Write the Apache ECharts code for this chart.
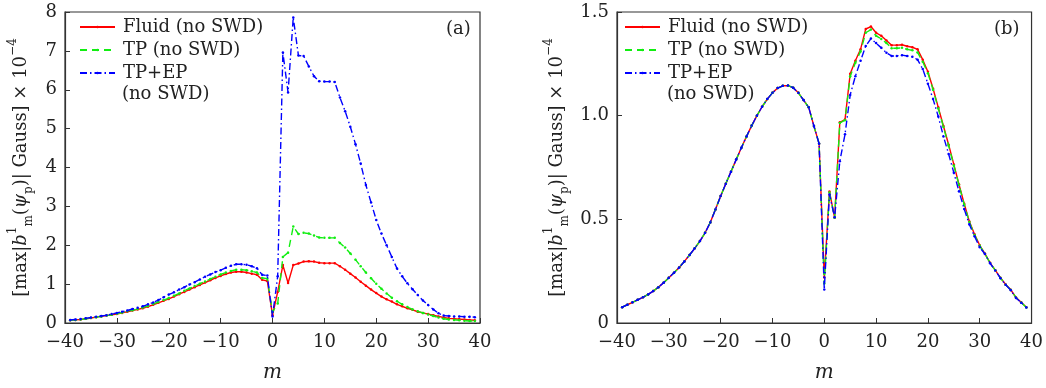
<!DOCTYPE html>
<html>
<head>
<meta charset="utf-8">
<script src="https://cdn.jsdelivr.net/npm/echarts@6/dist/echarts.min.js"></script>
<style>
html,body{margin:0;padding:0;background:#fff;}
#c{width:1046px;height:388px;}
</style>
</head>
<body>
<div id="c"></div>
<script>
// ---- data ----
const mValues = [-39,-38,-37,-36,-35,-34,-33,-32,-31,-30,
  -29,-28,-27,-26,-25,-24,-23,-22,-21,-20,
  -19,-18,-17,-16,-15,-14,-13,-12,-11,-10,
  -9,-8,-7,-6,-5,-4,-3,-2,-1,
  0,
  1,2,3,4,5,6,7,8,9,10,
  11,12,13,14,15,16,17,18,19,20,
  21,22,23,24,25,26,27,28,29,30,
  31,32,33,34,35,36,37,38,39];

const seriesNames = ['Fluid (no SWD)', 'TP (no SWD)', 'TP+EP'];
const legendExtra = '(no SWD)';

// panel (a)
const fluidA = [0.07,0.08,0.09,0.11,0.13,0.15,0.17,0.19,0.21,0.23,
  0.26,0.29,0.32,0.35,0.38,0.42,0.47,0.52,0.57,0.62,
  0.68,0.74,0.80,0.86,0.92,0.98,1.04,1.10,1.16,1.21,
  1.26,1.30,1.32,1.32,1.30,1.27,1.24,1.11,1.08,
  0.20,
  0.80,1.49,1.03,1.49,1.53,1.58,1.59,1.58,1.55,1.54,
  1.54,1.54,1.46,1.37,1.27,1.17,1.06,0.96,0.86,0.77,
  0.68,0.61,0.55,0.48,0.43,0.38,0.34,0.29,0.26,0.23,
  0.20,0.17,0.14,0.12,0.11,0.10,0.09,0.08,0.07];
const tpA = [0.07,0.08,0.09,0.11,0.13,0.15,0.17,0.19,0.21,0.24,
  0.27,0.30,0.33,0.36,0.40,0.44,0.49,0.54,0.59,0.64,
  0.70,0.76,0.83,0.89,0.95,1.01,1.07,1.13,1.19,1.25,
  1.30,1.34,1.37,1.37,1.36,1.33,1.30,1.16,1.14,
  0.28,
  0.50,1.70,1.81,2.48,2.29,2.32,2.30,2.25,2.20,2.19,
  2.19,2.19,2.06,1.94,1.79,1.63,1.46,1.30,1.15,1.01,
  0.88,0.76,0.65,0.56,0.48,0.41,0.35,0.30,0.26,0.22,
  0.18,0.14,0.11,0.09,0.08,0.07,0.06,0.05,0.05];
const tpepA = [0.08,0.09,0.10,0.12,0.14,0.16,0.18,0.20,0.23,0.26,
  0.29,0.32,0.36,0.39,0.43,0.48,0.53,0.59,0.66,0.73,
  0.79,0.86,0.92,0.99,1.05,1.12,1.19,1.25,1.31,1.36,
  1.42,1.47,1.51,1.51,1.50,1.46,1.41,1.24,1.22,
  0.17,
  1.20,6.96,5.93,7.86,6.88,6.87,6.60,6.35,6.22,6.21,
  6.21,6.20,5.80,5.45,5.05,4.60,4.10,3.55,3.10,2.65,
  2.30,2.00,1.70,1.40,1.20,1.02,0.87,0.72,0.58,0.46,
  0.35,0.25,0.19,0.18,0.17,0.17,0.16,0.16,0.15];

// panel (b)
const fluidB = [0.076,0.088,0.100,0.112,0.124,0.138,0.154,0.173,0.194,0.218,
  0.242,0.268,0.297,0.328,0.360,0.395,0.435,0.485,0.548,0.612,
  0.672,0.730,0.788,0.845,0.900,0.952,1.000,1.043,1.080,1.110,
  1.133,1.144,1.145,1.135,1.110,1.075,1.040,0.950,0.865,
  0.220,
  0.634,0.508,0.968,0.981,1.202,1.265,1.320,1.418,1.430,1.400,
  1.385,1.363,1.340,1.340,1.342,1.335,1.330,1.320,1.270,1.212,
  1.130,1.040,0.950,0.860,0.765,0.668,0.575,0.490,0.428,0.375,
  0.335,0.290,0.255,0.218,0.186,0.160,0.123,0.100,0.076];
const tpB = [0.076,0.088,0.100,0.112,0.124,0.138,0.154,0.173,0.194,0.218,
  0.242,0.268,0.297,0.328,0.360,0.395,0.435,0.485,0.548,0.612,
  0.672,0.730,0.788,0.845,0.900,0.952,1.000,1.043,1.080,1.110,
  1.133,1.144,1.145,1.135,1.110,1.075,1.040,0.950,0.865,
  0.190,
  0.630,0.508,0.965,0.978,1.190,1.255,1.310,1.400,1.415,1.385,
  1.370,1.350,1.325,1.325,1.327,1.320,1.315,1.305,1.260,1.205,
  1.125,1.035,0.945,0.855,0.760,0.665,0.572,0.487,0.425,0.373,
  0.334,0.289,0.254,0.217,0.185,0.159,0.122,0.099,0.075];
const tpepB = [0.076,0.088,0.100,0.112,0.124,0.138,0.154,0.173,0.194,0.218,
  0.242,0.268,0.297,0.328,0.360,0.395,0.435,0.485,0.548,0.612,
  0.672,0.730,0.788,0.845,0.900,0.952,1.000,1.043,1.080,1.110,
  1.133,1.144,1.145,1.135,1.110,1.075,1.040,0.950,0.865,
  0.162,
  0.620,0.510,0.780,0.910,1.100,1.190,1.265,1.336,1.372,1.350,
  1.327,1.303,1.288,1.288,1.292,1.288,1.284,1.270,1.225,1.154,
  1.080,0.996,0.900,0.815,0.725,0.635,0.550,0.475,0.418,0.365,
  0.333,0.288,0.253,0.216,0.184,0.158,0.121,0.098,0.075];

const xTicks = { min: -40, max: 40, interval: 10 };
const yTicksA = { min: 0, max: 8, interval: 1 };
const yTicksB = { min: 0, max: 1.5, interval: 0.5 };

// ---- styling ----
const FONT = 'DejaVu Serif';
const FS = 18;
const TXT = '#222';
const AX = '#333';
const colors = ['#ff0000', '#11ee11', '#0000ff'];
const dashes = ['solid', [7, 5], [7, 3, 1.5, 3]];

function pairs(vals) { return mValues.map((m, i) => [m, vals[i]]); }

const yTitleRich = {
  t: { fontFamily: FONT, fontSize: FS, color: TXT, lineHeight: 28 },
  i: { fontFamily: FONT, fontSize: FS, color: TXT, fontStyle: 'italic', lineHeight: 28 },
  sp: { fontFamily: FONT, fontSize: 12, color: TXT, verticalAlign: 'top', lineHeight: 28 },
  sb: { fontFamily: FONT, fontSize: 12, color: TXT, verticalAlign: 'bottom', lineHeight: 28 }
};
const yTitle = '{t|[max|}{i|b}{sp|1}{sb|m}{t|(}{i|ψ}{sb|p}{t|)| Gauss] × 10}{sp|−4}';

function xAxis(gi) {
  return {
    type: 'value', gridIndex: gi, min: xTicks.min, max: xTicks.max, interval: xTicks.interval,
    name: 'm', nameLocation: 'middle', nameGap: 40,
    nameTextStyle: { fontFamily: FONT, fontSize: 20, fontStyle: 'italic', color: TXT },
    axisLine: { show: true, onZero: false, lineStyle: { color: AX, width: 1.2 } },
    axisTick: { show: true, inside: true, length: 5, lineStyle: { color: AX } },
    axisLabel: { margin: 10, fontFamily: FONT, fontSize: FS, color: TXT,
      formatter: v => v < 0 ? '\u2212' + Math.abs(v) : String(v) },
    splitLine: { show: false }
  };
}
function yAxis(gi, t, fmt, gap) {
  return {
    type: 'value', gridIndex: gi, min: t.min, max: t.max, interval: t.interval,
    name: yTitle, nameLocation: 'middle', nameRotate: 90, nameGap: gap,
    nameTextStyle: { rich: yTitleRich },
    axisLine: { show: true, onZero: false, lineStyle: { color: AX, width: 1.2 } },
    axisTick: { show: true, inside: true, length: 5, lineStyle: { color: AX } },
    axisLabel: { margin: 8, fontFamily: FONT, fontSize: FS, color: TXT, formatter: fmt },
    splitLine: { show: false }
  };
}

function mkSeries(data, idx, gi) {
  return {
    type: 'line', name: seriesNames[idx], xAxisIndex: gi, yAxisIndex: gi,
    data: pairs(data), showSymbol: true, symbol: 'circle', symbolSize: 2.5,
    itemStyle: { color: colors[idx] },
    lineStyle: { color: colors[idx], width: 1.4, type: dashes[idx] },
    animation: false, z: 2 + idx
  };
}

function legend(left) {
  return {
    orient: 'vertical', left: left, top: 17, padding: 0,
    itemWidth: 35, itemHeight: 3, itemGap: 3,
    data: seriesNames,
    textStyle: { fontFamily: FONT, fontSize: FS, color: TXT, lineHeight: 20, padding: [0, 0, 0, 3] }
  };
}

const chart = echarts.init(document.getElementById('c'), null, { renderer: 'canvas' });
const tfont = FS + 'px "' + FONT + '"';
chart.setOption({
  animation: false,
  backgroundColor: '#fff',
  grid: [
    { left: 65, right: 566, top: 12, bottom: 59, show: true, borderColor: AX, borderWidth: 1.2 },
    { left: 617, right: 14, top: 12, bottom: 59, show: true, borderColor: AX, borderWidth: 1.2 }
  ],
  xAxis: [xAxis(0), xAxis(1)],
  yAxis: [
    yAxis(0, yTicksA, v => String(v), 30),
    yAxis(1, yTicksB, v => v === 0 ? '0' : v.toFixed(1), 46)
  ],
  legend: [legend(79), legend(624)],
  series: [
    mkSeries(fluidA, 0, 0), mkSeries(tpA, 1, 0), mkSeries(tpepA, 2, 0),
    mkSeries(fluidB, 0, 1), mkSeries(tpB, 1, 1), mkSeries(tpepB, 2, 1)
  ],
  graphic: [
    { type: 'text', left: 122, top: 85, style: { text: legendExtra, font: tfont, fill: TXT } },
    { type: 'text', left: 667, top: 85, style: { text: legendExtra, font: tfont, fill: TXT } },
    { type: 'text', left: 446, top: 20, style: { text: '(a)', font: tfont, fill: TXT } },
    { type: 'text', left: 994, top: 20, style: { text: '(b)', font: tfont, fill: TXT } }
  ]
});
</script>
</body>
</html>
